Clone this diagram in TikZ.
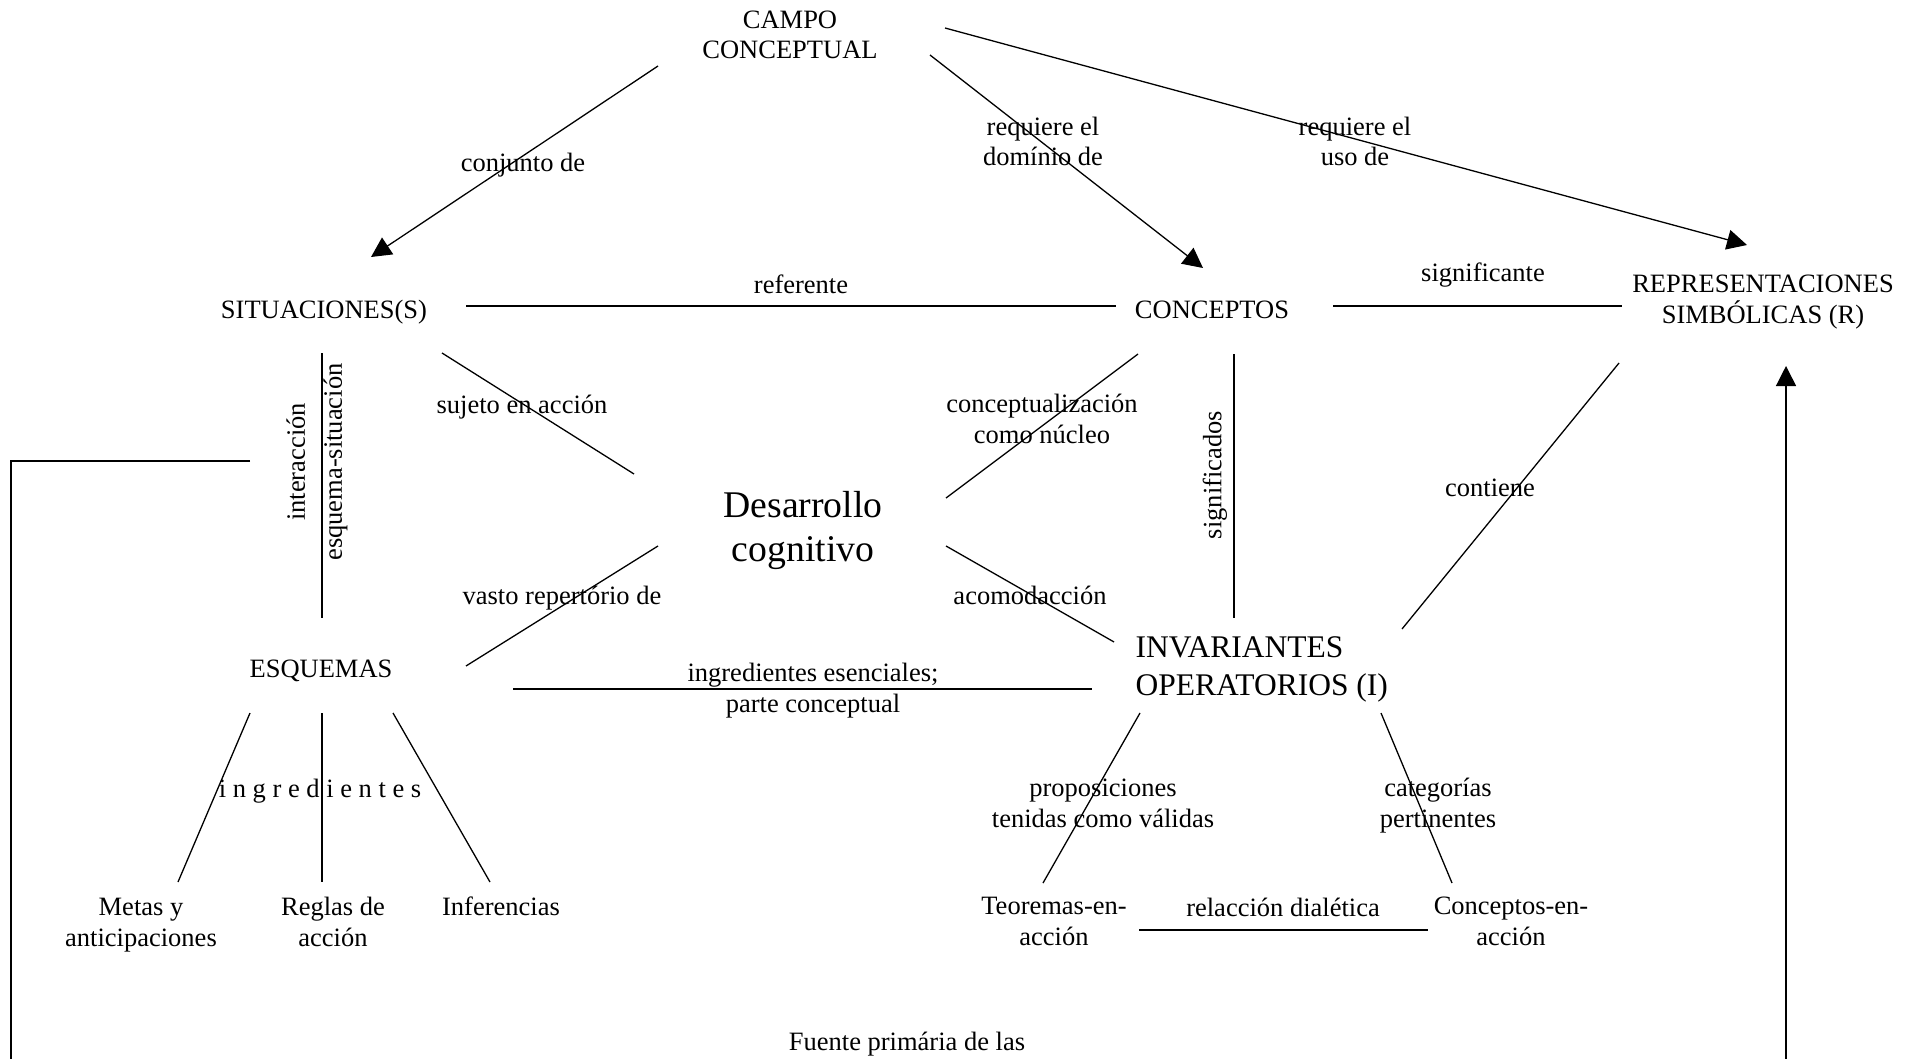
\documentclass[tikz,border=0pt]{standalone}
\usepackage{fontspec}
\setmainfont{Liberation Serif}
\usetikzlibrary{arrows.meta}
\begin{document}
\begin{tikzpicture}[x=0.5pt,y=-0.5pt,line width=0.65pt,
  txt/.style={inner sep=0pt,font=\fontsize{13.25pt}{15.25pt}\selectfont,align=center,anchor=base},
  bigtxt/.style={inner sep=0pt,font=\fontsize{15.75pt}{19pt}\selectfont,align=left,anchor=base west},
  hugetxt/.style={inner sep=0pt,font=\fontsize{18.85pt}{22pt}\selectfont,align=center,anchor=base},
  rottxt/.style={inner sep=0pt,font=\fontsize{13.25pt}{18.5pt}\selectfont,align=center,rotate=90},
  link/.style={draw=black},
  arr/.style={draw=black,-{Triangle[length=10pt,width=10pt]}}]
\useasboundingbox (0,0) rectangle (1915,1059);

% main nodes (multi-line nodes are placed at the baseline of their last line)
\node[txt] (campo) at (790,59) {CAMPO\\CONCEPTUAL};
\node[txt] (sit) at (324,318) {SITUACIONES(S)};
\node[txt] (conc) at (1212,318) {CONCEPTOS};
\node[txt] (rep) at (1763,323) {REPRESENTACIONES\\SIMBÓLICAS (R)};
\node[hugetxt] (des) at (803,561) {Desarrollo\\cognitivo};
\node[txt] (esq) at (321,677) {ESQUEMAS};
\node[bigtxt] (inv) at (1135,695) {INVARIANTES\\OPERATORIOS (I)};
\node[txt] (metas) at (141,946) {Metas y\\anticipaciones};
\node[txt] (reglas) at (333,946) {Reglas de\\acción};
\node[txt] (infer) at (501,915) {Inferencias};
\node[txt] (teor) at (1054,945) {Teoremas-en-\\acción};
\node[txt] (cea) at (1511,945) {Conceptos-en-\\acción};
\node[txt] (fuente) at (907,1050) {Fuente primária de las};

% labels
\node[txt] (l1) at (523,172) {conjunto de};
\node[txt] (l2) at (1043,166) {requiere el\\domínio de};
\node[txt] (l3) at (1355,166) {requiere el\\uso de};
\node[txt] (l4) at (801,293) {referente};
\node[txt] (l5) at (1483,281) {significante};
\node[txt] (l6) at (522,413) {sujeto en acción};
\node[rottxt] (l7) at (317,462) {interacción\\esquema-situación};
\node[txt] (l8) at (1042,443) {conceptualización\\como núcleo};
\node[rottxt] (l9) at (1215,475) {significados};
\node[txt] (l10) at (1490,496) {contiene};
\node[txt] (l11) at (562,604) {vasto repertório de};
\node[txt] (l12) at (1030,604) {acomodacción};
\node[txt] (l13) at (813,712) {ingredientes esenciales;\\parte conceptual};
\node[txt] (l14) at (1103,827) {proposiciones\\tenidas como válidas};
\node[txt] (l15) at (1438,827) {categorías\\pertinentes};
\node[txt] (l16) at (320,797) {i n g r e d i e n t e s};
\node[txt] (l17) at (1283,916) {relacción dialética};

% connector end points
\coordinate (campoSW) at (658,66);   \coordinate (sitN) at (371,257);
\coordinate (campoSE) at (930,55);   \coordinate (concN) at (1203,268);
\coordinate (campoE) at (945,28);    \coordinate (repN) at (1747,245);
\coordinate (sitE) at (466,306);     \coordinate (concW) at (1116,306);
\coordinate (concE) at (1333,306);   \coordinate (repW) at (1622,306);
\coordinate (sitS) at (322,353);     \coordinate (esqN) at (322,618);
\coordinate (sitSE) at (442,353);    \coordinate (desNW) at (634,474);
\coordinate (esqNE) at (466,666);    \coordinate (desSW) at (658,546);
\coordinate (concSW) at (1138,354);  \coordinate (desNE) at (946,498);
\coordinate (concS) at (1234,354);   \coordinate (invN) at (1234,618);
\coordinate (repSW) at (1619,363);   \coordinate (invNE) at (1402,629);
\coordinate (desSE) at (946,546);    \coordinate (invNW) at (1114,642);
\coordinate (esqE) at (513,689);     \coordinate (invW) at (1092,689);
\coordinate (invS1) at (1140,713);   \coordinate (teorN) at (1043,883);
\coordinate (invS2) at (1381,713);   \coordinate (ceaN) at (1452,883);
\coordinate (teorE) at (1139,930);   \coordinate (ceaW) at (1428,930);
\coordinate (esqS1) at (250,713);    \coordinate (metasN) at (178,882);
\coordinate (esqS2) at (322,713);    \coordinate (reglasN) at (322,882);
\coordinate (esqS3) at (393,713);    \coordinate (inferN) at (490,882);
\coordinate (fbA) at (250,461);      \coordinate (fbB) at (11,461);
\coordinate (fbC) at (11,1059);
\coordinate (fbD) at (1786,1059);    \coordinate (repS) at (1786,366);

% connectors
\draw[arr] (campoSW) -- (sitN);
\draw[arr] (campoSE) -- (concN);
\draw[arr] (campoE) -- (repN);
\draw[link] (sitE) -- (concW);
\draw[link] (concE) -- (repW);
\draw[link] (sitS) -- (esqN);
\draw[link] (sitSE) -- (desNW);
\draw[link] (esqNE) -- (desSW);
\draw[link] (concSW) -- (desNE);
\draw[link] (concS) -- (invN);
\draw[link] (repSW) -- (invNE);
\draw[link] (desSE) -- (invNW);
\draw[link] (esqE) -- (invW);
\draw[link] (invS1) -- (teorN);
\draw[link] (invS2) -- (ceaN);
\draw[link] (teorE) -- (ceaW);
\draw[link] (esqS1) -- (metasN);
\draw[link] (esqS2) -- (reglasN);
\draw[link] (esqS3) -- (inferN);
\draw[link] (fbA) -- (fbB) -- (fbC);
\draw[arr] (fbD) -- (repS);
\end{tikzpicture}
\end{document}
